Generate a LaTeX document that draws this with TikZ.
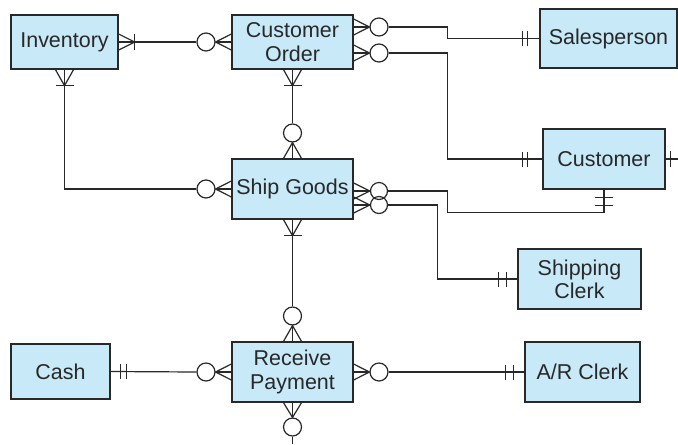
\documentclass[tikz,border=0pt]{standalone}
\usepackage{fontspec}
\setmainfont{Liberation Sans}
\usetikzlibrary{calc}
\definecolor{boxfill}{RGB}{200,233,248}
\definecolor{ink}{RGB}{40,40,40}
\newcommand\crowfoot[3]{\draw[conn] ($(#2)+(#3)$) -- (#1) -- ($(#2)-(#3)$); \draw[conn] (#2) -- (#1);}
\newcommand\barmark[2]{\draw[conn] ($(#1)+(#2)$) -- ($(#1)-(#2)$);}
\begin{document}
\begin{tikzpicture}[x=0.75pt,y=-0.75pt,
 conn/.style={draw=ink,line width=0.9pt},
 ent/.style={draw=ink,line width=1pt,fill=boxfill,text=ink,align=center,inner sep=0pt,font=\fontsize{16.1}{17.5}\selectfont},
 opt/.style={circle,draw=ink,line width=0.9pt,inner sep=0pt,minimum size=13.5pt}]
\useasboundingbox (0,0) rectangle (678,444);
% entities
\node[ent,minimum width=80.25pt,minimum height=40.5pt] (inv) at (64.5,42) {Inventory};
\node[ent,minimum width=90.75pt,minimum height=40.5pt] (co) at (292.5,42) {Customer\\Order};
\node[ent,minimum width=102.75pt,minimum height=44.25pt] (sp) at (608.5,38.5) {Salesperson};
\node[ent,minimum width=91.5pt,minimum height=45pt] (cu) at (604,159) {Customer};
\node[ent,minimum width=90.75pt,minimum height=45pt] (sg) at (292.5,189) {Ship Goods};
\node[ent,minimum width=92.25pt,minimum height=45pt] (sc) at (579.5,279) {Shipping\\Clerk};
\node[ent,minimum width=74.25pt,minimum height=41.25pt] (cash) at (60.5,371.5) {Cash};
\node[ent,minimum width=90.75pt,minimum height=45pt] (rp) at (292.5,372) {Receive\\Payment};
\node[ent,minimum width=86.25pt,minimum height=45pt] (ar) at (582.5,372) {A/R Clerk};
% optional circles
\node[opt] (c1) at (206,42) {};
\node[opt] (c3) at (292.5,133) {};
\node[opt] (c4) at (206,189) {};
\node[opt] (c5) at (292.5,316) {};
\node[opt] (c6) at (206,372) {};
\node[opt] (c7) at (379,372) {};
\node[opt] (c8) at (292.5,427) {};
\node[opt] (c9) at (379,27) {};
\node[opt] (c10) at (379,53) {};
\node[opt,minimum size=12.75pt] (c11) at (379,191) {};
\node[opt,minimum size=12.75pt] (c12) at (379,205) {};
% helper coordinates
\coordinate (t1) at ($(inv.east)+(16,0)$);
\coordinate (t2) at ($(inv.south)+(0,16)$);
\coordinate (t3) at ($(co.south)+(0,16)$);
\coordinate (t4) at ($(sg.south)+(0,16)$);
\coordinate (b9) at (co.east |- c9);
\coordinate (b10) at (co.east |- c10);
\coordinate (b11) at (sg.east |- c11);
\coordinate (b12) at (sg.east |- c12);
\coordinate (cuend) at (678,159);
\coordinate (bot) at (292.5,444);
% Inventory - Customer Order
\draw[conn] (inv.east) -- (c1.west);
\crowfoot{t1}{inv.east}{0,8}
\barmark{t1}{0,8}
\crowfoot{c1.east}{co.west}{0,8}
% Inventory - Ship Goods
\draw[conn] (inv.south) |- (c4.west);
\crowfoot{t2}{inv.south}{9,0}
\barmark{t2}{9,0}
\crowfoot{c4.east}{sg.west}{0,8}
% Customer Order - Ship Goods
\draw[conn] (co.south) -- (c3.north);
\crowfoot{t3}{co.south}{9,0}
\barmark{t3}{9,0}
\crowfoot{c3.south}{sg.north}{9,0}
% Ship Goods - Receive Payment
\draw[conn] (sg.south) -- (c5.north);
\crowfoot{t4}{sg.south}{9,0}
\barmark{t4}{9,0}
\crowfoot{c5.south}{rp.north}{9,0}
% Cash - Receive Payment
\draw[conn] (cash.east) -- (c6.west);
\barmark{$(cash.east)+(10,0)$}{0,7.5}
\barmark{$(cash.east)+(16,0)$}{0,7.5}
\crowfoot{c6.east}{rp.west}{0,8}
% Receive Payment - A/R Clerk
\crowfoot{c7.west}{rp.east}{0,8}
\draw[conn] (c7.east) -- (ar.west);
\barmark{$(ar.west)-(19,0)$}{0,7.5}
\barmark{$(ar.west)-(11,0)$}{0,7.5}
% Receive Payment bottom
\crowfoot{c8.north}{rp.south}{9,0}
\draw[conn] (c8.south) -- (bot);
% Customer Order - Salesperson
\crowfoot{c9.west}{b9}{0,8}
\draw[conn] (c9.east) -- ++(59,0) |- (sp.west);
\barmark{$(sp.west)-(17,0)$}{0,7.5}
\barmark{$(sp.west)-(12,0)$}{0,7.5}
% Customer Order - Customer
\crowfoot{c10.west}{b10}{0,8}
\draw[conn] (c10.east) -- ++(59,0) |- (cu.west);
\barmark{$(cu.west)-(20,0)$}{0,7.5}
\barmark{$(cu.west)-(15,0)$}{0,7.5}
% Customer right stub
\draw[conn] (cu.east) -- (cuend);
\barmark{$(cu.east)+(4.5,0)$}{0,8}
% Ship Goods - Customer
\crowfoot{c11.west}{b11}{0,8}
\draw[conn] (c11.east) -- ++(59,0) |- ($(cu.south)+(0,23)$) -- (cu.south);
\barmark{$(cu.south)+(0,8)$}{9,0}
\barmark{$(cu.south)+(0,16)$}{9,0}
% Ship Goods - Shipping Clerk
\crowfoot{c12.west}{b12}{0,8}
\draw[conn] (c12.east) -- ++(49,0) |- (sc.west);
\barmark{$(sc.west)-(19,0)$}{0,7.5}
\barmark{$(sc.west)-(11,0)$}{0,7.5}
\end{tikzpicture}
\end{document}
